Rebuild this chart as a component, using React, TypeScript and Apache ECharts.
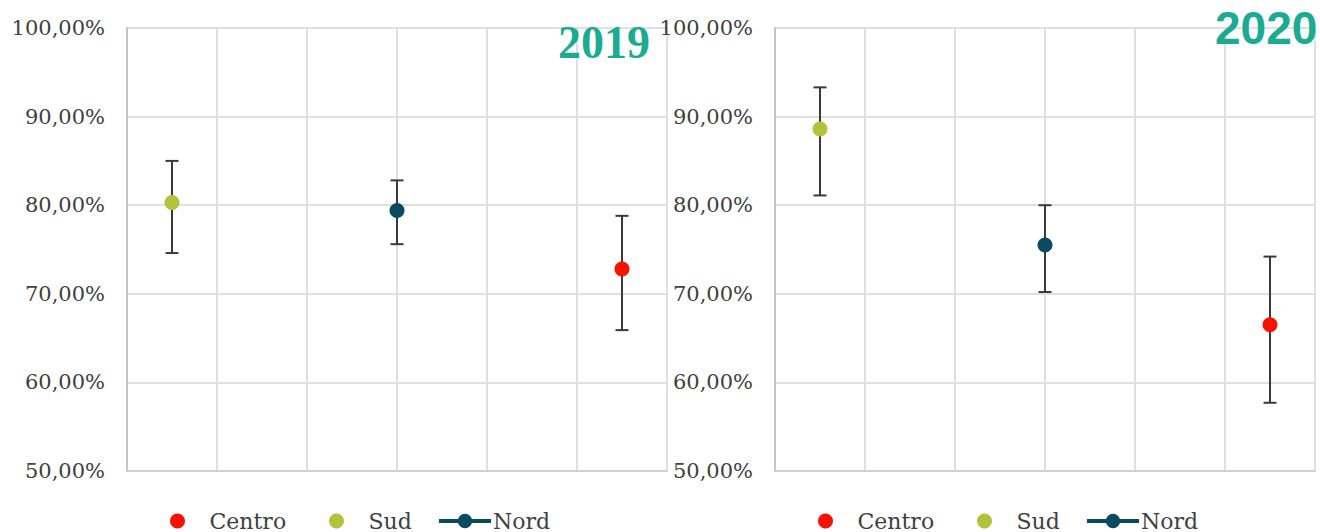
import React, { useEffect, useRef } from "react";
import * as echarts from "echarts";

const seriesNames = ["Sud", "Nord", "Centro"];
const xValues = [0.5, 3, 5.5];
const mean2019 = [80.3, 79.4, 72.8];
const low2019 = [74.6, 75.6, 65.9];
const high2019 = [85.0, 82.8, 78.8];
const mean2020 = [88.6, 75.5, 66.5];
const low2020 = [81.1, 70.2, 57.7];
const high2020 = [93.3, 80.0, 74.2];
const yTicks = [50, 60, 70, 80, 90, 100];
const years = ["2019", "2020"];
const legendOrder = ["Centro", "Sud", "Nord"];

const colors: Record<string, string> = {
  Sud: "#b1c23b",
  Nord: "#0a4a60",
  Centro: "#fa1200",
};

const FONT = "DejaVu Serif";
const LABEL = "#404040";

export default function App() {
  const ref = useRef<HTMLDivElement>(null);
  useEffect(() => {
    if (!ref.current) return;
    const chart = echarts.init(ref.current, null, { renderer: "svg" });
    const panels = [
      { mean: mean2019, low: low2019, high: high2019 },
      { mean: mean2020, low: low2020, high: high2020 },
    ];
    const grids = [
      { left: 127, top: 28, width: 540, height: 443 },
      { left: 775, top: 28, width: 540, height: 443 },
    ];
    const xAxes = grids.map((_, i) => ({
      type: "value",
      gridIndex: i,
      min: 0,
      max: 6,
      interval: 1,
      axisLabel: { show: false },
      axisTick: { show: false },
      axisLine: { show: true, lineStyle: { color: "#d0d0d0", width: 2 } },
      splitLine: { show: true, lineStyle: { color: "#e0e0e0", width: 2 } },
    }));
    const yAxes = grids.map((_, i) => ({
      type: "value",
      gridIndex: i,
      min: yTicks[0],
      max: yTicks[yTicks.length - 1],
      interval: 10,
      axisLabel: {
        color: LABEL,
        fontFamily: FONT,
        fontSize: 21,
        margin: 22,
        formatter: (v: number) => v.toFixed(2).replace(".", ",") + "%",
      },
      axisTick: { show: false },
      axisLine: { show: true, lineStyle: { color: "#c4c4c4", width: 2 } },
      splitLine: { show: true, lineStyle: { color: "#e0e0e0", width: 2 } },
    }));
    const series: any[] = [];
    panels.forEach((p, gi) => {
      series.push({
        type: "custom",
        name: "err" + years[gi],
        xAxisIndex: gi,
        yAxisIndex: gi,
        z: 1,
        data: xValues.map((x, k) => [x, p.low[k], p.high[k]]),
        renderItem: (params: any, api: any) => {
          const x = api.value(0);
          const lo = api.coord([x, api.value(1)]);
          const hi = api.coord([x, api.value(2)]);
          const hw = 6.5;
          const st = { stroke: "#3a3a3a", lineWidth: 2 };
          return {
            type: "group",
            children: [
              { type: "line", shape: { x1: lo[0], y1: lo[1], x2: hi[0], y2: hi[1] }, style: st },
              { type: "line", shape: { x1: lo[0] - hw, y1: lo[1], x2: lo[0] + hw, y2: lo[1] }, style: st },
              { type: "line", shape: { x1: hi[0] - hw, y1: hi[1], x2: hi[0] + hw, y2: hi[1] }, style: st },
            ],
          };
        },
      });
      seriesNames.forEach((name, k) => {
        const isLine = name === "Nord";
        series.push({
          type: isLine ? "line" : "scatter",
          name,
          xAxisIndex: gi,
          yAxisIndex: gi,
          z: 3,
          symbol: "circle",
          symbolSize: 15,
          itemStyle: { color: colors[name], opacity: 1 },
          lineStyle: isLine ? { color: colors[name], width: 4 } : undefined,
          data: [[xValues[k], p.mean[k]]],
        });
      });
    });
    const legendLefts = [
      [165, 324, 432],
      [813, 972, 1080],
    ];
    const legends: any[] = [];
    legendLefts.forEach((row) => {
      row.forEach((left, j) => {
        const name = legendOrder[j];
        const isLine = name === "Nord";
        legends.push({
          left,
          top: 505,
          data: [name],
          itemWidth: isLine ? 52 : 54,
          itemHeight: isLine ? 18 : 15,
          itemGap: 0,
          selectedMode: false,
          lineStyle: isLine ? { width: 4 } : undefined,
          textStyle: {
            color: LABEL,
            fontFamily: FONT,
            fontSize: 22,
            padding: isLine ? [0, 0, 0, -3] : 0,
          },
        });
      });
    });
    chart.setOption({
      animation: false,
      grid: grids,
      xAxis: xAxes,
      yAxis: yAxes,
      series,
      legend: legends,
      title: [
        {
          text: years[0],
          left: 553,
          top: 14,
          textStyle: {
            color: "#1aab91",
            fontFamily: "Liberation Serif",
            fontWeight: "bold",
            fontSize: 46,
          },
        },
        {
          text: years[1],
          left: 1210,
          top: 0,
          textStyle: {
            color: "#1aab91",
            fontFamily: "Liberation Sans",
            fontWeight: "bold",
            fontSize: 46,
          },
        },
      ],
    });
    return () => chart.dispose();
  }, []);
  return (
    <div
      ref={ref}
      style={{ position: "absolute", left: 0, top: 0, width: 1320, height: 532 }}
    />
  );
}
